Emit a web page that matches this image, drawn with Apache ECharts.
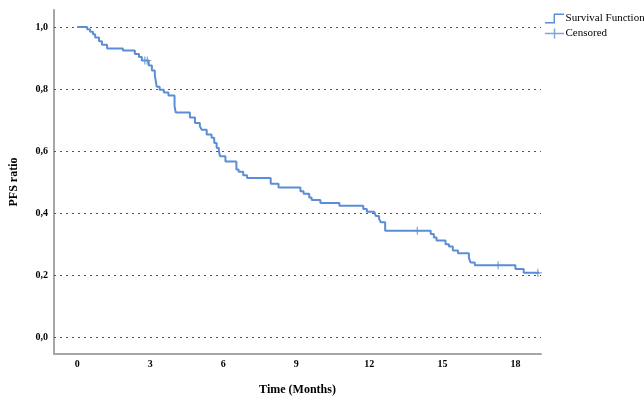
<!DOCTYPE html>
<html>
<head>
<meta charset="utf-8">
<script src="https://cdn.jsdelivr.net/npm/echarts@6/dist/echarts.min.js"></script>
<style>html,body{margin:0;padding:0;background:#fff;}#c{width:644px;height:401px;}</style>
</head>
<body>
<div id="c"></div>
<script>
// Kaplan-Meier step points (time in months, survival proportion)
const times = [0, 0.41, 0.53, 0.65, 0.74, 0.90, 1.02, 1.23, 1.88, 2.37, 2.54, 2.66, 2.94, 3.07, 3.19, 3.27, 3.39, 3.56, 3.75, 4.00, 4.05, 4.63, 4.84, 5.04, 5.11, 5.32, 5.52, 5.63, 5.73, 5.82, 5.87, 6.09, 6.54, 6.63, 6.82, 6.98, 7.95, 8.27, 9.17, 9.30, 9.53, 9.63, 9.99, 10.77, 11.75, 11.90, 12.20, 12.27, 12.40, 12.47, 12.65, 14.52, 14.65, 14.76, 15.13, 15.27, 15.43, 15.64, 16.09, 16.16, 16.33, 18.00, 18.34, 18.98];
const survival = [1.0, 0.993, 0.985, 0.977, 0.966, 0.954, 0.943, 0.931, 0.924, 0.913, 0.903, 0.892, 0.876, 0.860, 0.844, 0.807, 0.798, 0.789, 0.779, 0.745, 0.724, 0.708, 0.690, 0.680, 0.669, 0.653, 0.643, 0.626, 0.610, 0.600, 0.583, 0.566, 0.540, 0.533, 0.522, 0.513, 0.494, 0.482, 0.470, 0.462, 0.450, 0.442, 0.432, 0.423, 0.413, 0.404, 0.399, 0.390, 0.381, 0.370, 0.343, 0.332, 0.321, 0.311, 0.299, 0.292, 0.279, 0.270, 0.255, 0.240, 0.231, 0.219, 0.207, 0.207];
const censorTimes = [2.78, 2.88, 13.97, 17.29, 18.92];
const censorValues = [0.892, 0.892, 0.343, 0.231, 0.207];
const xTicks = [0, 3, 6, 9, 12, 15, 18];
const yTicks = [0, 0.2, 0.4, 0.6, 0.8, 1.0];

const blue = '#5b8ed6';
const serif = 'Liberation Serif';
const crossPath = 'path://M4.25,0h1.5v4.25h4.25v1.5h-4.25v4.25h-1.5v-4.25h-4.25v-1.5h4.25z';

const chart = echarts.init(document.getElementById('c'), null, {renderer: 'canvas'});
chart.setOption({
  animation: false,
  backgroundColor: '#fff',
  grid: {left: 52, right: 103, top: 10, bottom: 42, containLabel: false},
  legend: {
    orient: 'vertical', left: 540, top: 8, itemWidth: 20, itemHeight: 10, itemGap: 4,
    selectedMode: false,
    textStyle: {fontFamily: serif, fontSize: 11, color: '#000', padding: [0, 0, 0, -4]},
    data: [
      {name: 'Survival Function', icon: 'path://M0,9L9,9L9,0L20,0L20,1.5L10.5,1.5L10.5,10.5L0,10.5Z'},
      {name: 'Censored', icon: 'path://M0,4.5L9.25,4.5L9.25,0L10.75,0L10.75,4.5L20,4.5L20,6L10.75,6L10.75,10.5L9.25,10.5L9.25,6L0,6Z'}
    ]
  },
  xAxis: {
    type: 'value', min: -0.95, max: 19.05,
    name: 'Time (Months)', nameLocation: 'middle', nameGap: 30,
    nameTextStyle: {fontFamily: serif, fontSize: 12, fontWeight: 'bold', color: '#000'},
    axisLine: {show: true, onZero: false, lineStyle: {color: '#a6a6a6', width: 2}},
    axisTick: {show: false},
    splitLine: {show: false},
    axisLabel: {customValues: xTicks, margin: 5, fontFamily: serif, fontSize: 10, fontWeight: 'bold', color: '#000'}
  },
  yAxis: {
    type: 'value', min: -0.055, max: 1.055,
    name: 'PFS ratio', nameLocation: 'middle', nameGap: 34,
    nameTextStyle: {fontFamily: serif, fontSize: 12, fontWeight: 'bold', color: '#000'},
    axisLine: {show: true, onZero: false, lineStyle: {color: '#a6a6a6', width: 2}},
    axisTick: {show: false},
    splitLine: {show: false},
    axisLabel: {customValues: yTicks, margin: 6, fontFamily: serif, fontSize: 10, fontWeight: 'bold', color: '#000',
      formatter: v => v.toFixed(1).replace('.', ',')}
  },
  series: [
    {
      name: 'Survival Function', type: 'line', step: 'end', showSymbol: false, symbol: 'none',
      data: times.map((t, i) => [t, survival[i]]),
      lineStyle: {color: blue, width: 2}, itemStyle: {color: blue},
      markLine: {
        silent: true, symbol: 'none', label: {show: false},
        lineStyle: {color: '#555', type: [2, 4], width: 1},
        data: yTicks.map(v => ({yAxis: v})),
        z: 1
      },
      z: 3
    },
    {
      name: 'Censored', type: 'scatter', symbol: crossPath, symbolSize: 8,
      data: censorTimes.map((t, i) => [t, censorValues[i]]),
      itemStyle: {color: blue}, z: 4
    }
  ]
});
</script>
</body>
</html>
